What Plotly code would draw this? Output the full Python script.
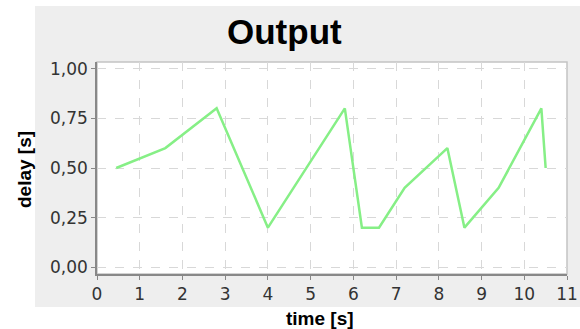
import plotly.graph_objects as go

time_s = [0.45, 1.6, 2.8, 4.0, 5.8, 6.2, 6.6, 7.2, 8.2, 8.6, 9.4, 10.4, 10.5]
delay_s = [0.5, 0.6, 0.8, 0.2, 0.8, 0.2, 0.2, 0.4, 0.6, 0.2, 0.4, 0.8, 0.5]
x_ticks = list(range(0, 12))
y_ticks = [0.0, 0.25, 0.5, 0.75, 1.0]

W, H = 580, 329
L, R, T, B = 97, 13, 62, 55
pw, ph = W - L - R, H - T - B

def px(x):
    return (x - L) / pw

def py(y):
    return (H - B - y) / ph

fig = go.Figure()
fig.add_trace(go.Scatter(x=time_s, y=delay_s, mode="lines",
                         line=dict(color="#86ef86", width=2.5),
                         showlegend=False, hoverinfo="skip"))

shapes = [
    dict(type="rect", xref="paper", yref="paper", x0=px(35), x1=px(600), y0=py(307), y1=py(6),
         fillcolor="#eeeeee", line=dict(width=0), layer="below"),
    dict(type="rect", xref="paper", yref="paper", x0=0, x1=1, y0=0, y1=1,
         fillcolor="white", line=dict(color="#c4c4c4", width=1.5), layer="below"),
]

tickfont = dict(family="DejaVu Sans", size=17, color="#333333")
fig.update_layout(
    width=W, height=H, autosize=False,
    margin=dict(l=L, r=R, t=T, b=B, pad=0),
    paper_bgcolor="white", plot_bgcolor="white",
    separators=",.",
    shapes=shapes,
    xaxis=dict(range=[0, 11], tickvals=x_ticks, ticks="outside", ticklen=4, tickcolor="#888888",
               showline=True, linecolor="#888888", linewidth=1.5,
               showgrid=True, gridcolor="#d8d8d8", griddash="dash", gridwidth=1,
               zeroline=False, tickfont=tickfont, automargin=False),
    yaxis=dict(range=[-0.033, 1.033], tickvals=y_ticks, tickformat=".2f", ticks="outside",
               ticklen=4, tickcolor="#888888",
               showline=True, linecolor="#888888", linewidth=1.5,
               showgrid=True, gridcolor="#d8d8d8", griddash="dash", gridwidth=1,
               zeroline=False, tickfont=tickfont, automargin=False),
    annotations=[
        dict(text="<b>Output</b>", xref="paper", yref="paper", x=px(284), y=py(32),
             showarrow=False, xanchor="center", yanchor="middle",
             font=dict(family="Liberation Sans", size=35, color="black")),
        dict(text="<b>time [s]</b>", xref="paper", yref="paper", x=px(320), y=py(318),
             showarrow=False, xanchor="center", yanchor="middle",
             font=dict(family="Liberation Sans", size=19, color="black")),
        dict(text="<b>delay [s]</b>", xref="paper", yref="paper", x=px(24), y=py(170),
             showarrow=False, xanchor="center", yanchor="middle", textangle=-90,
             font=dict(family="Liberation Sans", size=19, color="black")),
    ],
)

post = ("document.documentElement.style.overflow='hidden';"
        "document.body.style.overflow='hidden';"
        "document.body.style.margin='0';"
        "document.documentElement.style.background='#eeeeee';"
        "document.body.style.background='#eeeeee';")
fig.write_html("out.html", config={"displayModeBar": False, "responsive": False},
               post_script=post)
